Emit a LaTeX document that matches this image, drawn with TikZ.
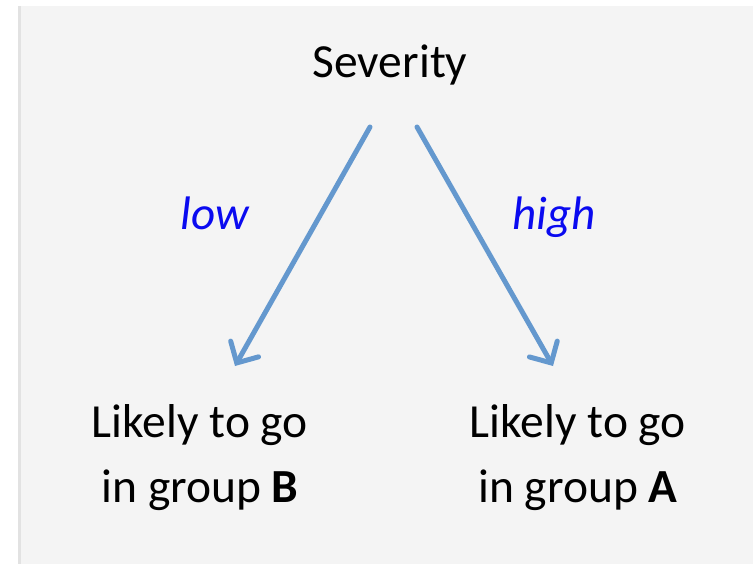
\documentclass[tikz,border=0pt]{standalone}
\usepackage{fontspec}
\setmainfont{Carlito}
\usetikzlibrary{arrows.meta}

\definecolor{panelgray}{RGB}{244,244,244}
\definecolor{edgegray}{RGB}{226,226,226}
\definecolor{arrowblue}{RGB}{100,152,206}
\definecolor{labelblue}{RGB}{10,10,240}

\tikzset{
    bigtext/.style={font=\fontsize{47.5}{65}\selectfont, inner sep=0pt, align=center},
    edgelabel/.style={font=\fontsize{47}{65}\selectfont\itshape, text=labelblue, inner sep=0pt},
    branch/.style={draw=arrowblue, line width=5pt, line cap=round,
        -{Straight Barb[length=16pt, width=32pt, line cap=round]}}
}

\begin{document}
\begin{tikzpicture}[x=1pt, y=-1pt]

    % background panel
    \useasboundingbox (0,0) rectangle (753,564);
    \fill[edgegray] (18,6) rectangle (753,564);
    \fill[panelgray] (21,6) rectangle (753,564);

    % root and the two outcomes
    \node[bigtext, anchor=base] (sev) at (390,78) {Severity};
    \node[bigtext, anchor=base] (grpB) at (200,502) {Likely to go\\in group \textbf{B}};
    \node[bigtext, anchor=base] (grpA) at (578,502) {Likely to go\\in group \textbf{A}};

    % arrow ends
    \coordinate (lowstart) at (370,127);
    \coordinate (lowend) at (235,366);
    \coordinate (highstart) at (417,127);
    \coordinate (highend) at (553,366);

    % branches
    \draw[branch] (lowstart) -- (lowend);
    \draw[branch] (highstart) -- (highend);

    % branch labels
    \node[edgelabel, anchor=base] (low) at (215,230) {low};
    \node[edgelabel, anchor=base] (high) at (554,230) {high};

\end{tikzpicture}
\end{document}
